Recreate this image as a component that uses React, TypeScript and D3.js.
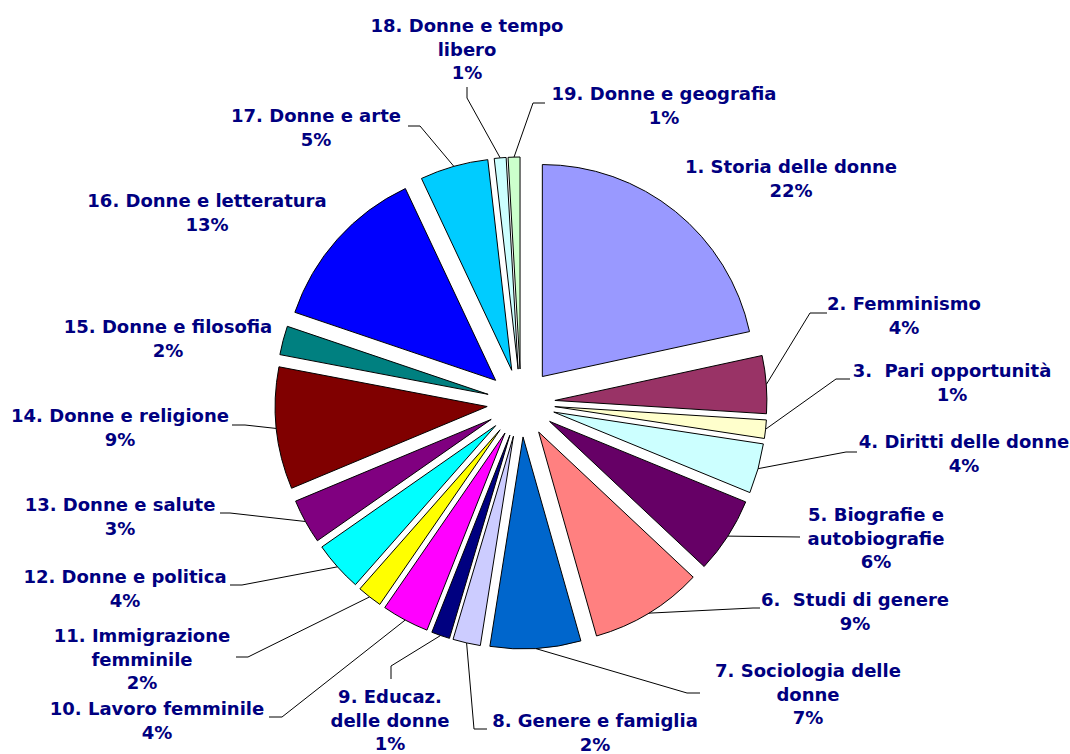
import React, { useEffect, useRef } from 'react'
import * as d3 from 'd3'

// categories (line breaks as in the original labels)
const categories = [
  '1. Storia delle donne',
  '2. Femminismo',
  '3.  Pari opportunità',
  '4. Diritti delle donne',
  '5. Biografie e\nautobiografie',
  '6.  Studi di genere',
  '7. Sociologia delle\ndonne',
  '8. Genere e famiglia',
  '9. Educaz.\ndelle donne',
  '10. Lavoro femminile',
  '11. Immigrazione\nfemminile',
  '12. Donne e politica',
  '13. Donne e salute',
  '14. Donne e religione',
  '15. Donne e filosofia',
  '16. Donne e letteratura',
  '17. Donne e arte',
  '18. Donne e tempo\nlibero',
  '19. Donne e geografia',
]

// share of each category (%)
const values = [21.6, 4.4, 1.4, 3.8, 5.8, 8.6, 6.9, 2.1, 1.4, 3.6, 1.9, 3.8, 3.4, 9.3, 2.2, 12.8, 5.2, 0.9, 0.9]

const colors = [
  '#9999FF', '#993366', '#FFFFCC', '#CCFFFF', '#660066', '#FF8080', '#0066CC',
  '#CCCCFF', '#000080', '#FF00FF', '#FFFF00', '#00FFFF', '#800080', '#800000',
  '#008080', '#0000FF', '#00CCFF', '#CCFFFF', '#CCFFCC',
]

// label layout: center x and first baseline
const labelX = [791, 904, 952, 964, 876, 855, 808, 595, 390, 157, 142, 125, 120, 120, 168, 207, 316, 467, 664]
const labelY = [173, 310, 377, 448, 521, 606, 677, 727, 703, 715, 642, 583, 511, 422, 333, 207, 122, 32, 100]

// leader line points after the arc point (null = no leader)
const leaders: ([number, number][] | null)[] = [
  null,
  [[810, 313], [827, 313]],
  [[836, 379], [850, 379]],
  [[846, 452], [857, 452]],
  [[800, 537]],
  [[753, 608], [760, 608]],
  [[687, 693], [700, 693]],
  [[474, 729], [487, 729]],
  [[391, 666], [391, 679]],
  [[282, 717], [269, 717]],
  [[248, 657], [236, 657]],
  [[242, 585], [230, 585]],
  [[230, 513], [220, 513]],
  [[245, 425], [232, 425]],
  null,
  null,
  [[420, 126], [408, 126]],
  [[467, 98], [467, 87]],
  [[533, 103], [545, 103]],
]

const W = 1070, H = 754
const CX = 521, CY = 403, R = 212, EXPLODE = 34
const LINE_H = 23.5

function PieChart() {
  const ref = useRef<SVGSVGElement>(null)

  useEffect(() => {
    const svg = d3.select(ref.current)
    svg.selectAll('*').remove()

    const total = d3.sum(values)
    const pie = d3.pie<number>().sort(null).value(d => d)
    const arcs = pie(values)
    const arc = d3.arc<d3.PieArcDatum<number>>().innerRadius(0).outerRadius(R)

    const offset = (d: d3.PieArcDatum<number>) => {
      const a = (d.startAngle + d.endAngle) / 2
      return [EXPLODE * Math.sin(a), -EXPLODE * Math.cos(a)]
    }

    const g = svg.append('g').attr('transform', `translate(${CX},${CY})`)

    g.selectAll('path.slice')
      .data(arcs)
      .enter()
      .append('path')
      .attr('class', 'slice')
      .attr('d', arc)
      .attr('transform', d => {
        const [ox, oy] = offset(d)
        return `translate(${ox},${oy})`
      })
      .attr('fill', (d, i) => colors[i])
      .attr('stroke', '#000')
      .attr('stroke-width', 1)
      .attr('stroke-linejoin', 'round')

    // leader lines
    const line = d3.line()
    arcs.forEach((d, i) => {
      const pts = leaders[i]
      if (!pts) return
      const a = (d.startAngle + d.endAngle) / 2
      const [ox, oy] = offset(d)
      const start: [number, number] = [CX + ox + R * Math.sin(a), CY + oy - R * Math.cos(a)]
      svg.append('path')
        .attr('d', line([start, ...pts]))
        .attr('fill', 'none')
        .attr('stroke', '#000')
        .attr('stroke-width', 1)
    })

    // labels
    arcs.forEach((d, i) => {
      const lines = categories[i].split('\n')
      lines.push(Math.round(d.value / total * 100) + '%')
      const t = svg.append('text')
        .attr('text-anchor', 'middle')
        .attr('font-family', '"DejaVu Sans", Verdana, sans-serif')
        .attr('font-weight', 'bold')
        .attr('font-size', 18)
        .attr('fill', '#000080')
        .style('white-space', 'pre')
      lines.forEach((s, k) => {
        t.append('tspan')
          .attr('x', labelX[i])
          .attr('y', labelY[i] + k * LINE_H)
          .text(s)
      })
    })
  }, [])

  return <svg ref={ref} width={W} height={H} style={{ position: 'absolute', left: 0, top: 0, display: 'block' }} />
}

export default function App() {
  return <PieChart />
}
